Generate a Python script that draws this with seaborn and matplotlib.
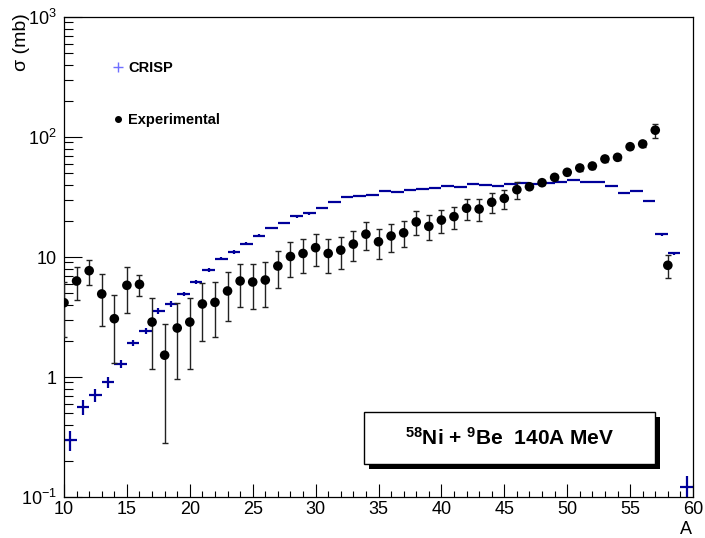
import numpy as np
import pandas as pd
import matplotlib
matplotlib.use("Agg")
import matplotlib.pyplot as plt
import seaborn as sns
from matplotlib.lines import Line2D
from matplotlib.patches import Rectangle
from matplotlib.ticker import FixedLocator, NullFormatter

# ---------------- data ----------------
exp_A = list(range(10, 59))
exp_sigma = [4.16, 6.31, 7.69, 4.92, 3.06, 5.81, 5.92, 2.87, 1.52, 2.56,
             2.87, 4.06, 4.19, 5.21, 6.31, 6.19, 6.43, 8.41, 10.1, 10.7,
             11.96, 10.7, 11.4, 12.8, 15.5, 13.4, 14.96, 15.9, 19.6, 18.0,
             20.3, 21.7, 25.5, 25.1, 28.6, 30.8, 36.4, 38.5, 41.6, 46.1,
             50.8, 55.2, 57.3, 65.6, 67.7, 83.0, 87.5, 114.0, 8.53]
exp_err = [2.0, 1.9, 1.8, 2.25, 1.76, 2.4, 1.2, 1.7, 1.24, 1.6,
           1.7, 2.05, 2.05, 2.3, 2.5, 2.5, 2.6, 2.9, 3.3, 3.3,
           3.5, 3.35, 3.4, 3.6, 4.0, 3.7, 3.9, 3.9, 4.4, 4.2,
           4.3, 4.6, 5.1, 5.2, 5.3, 5.7, 6.0, 1.9, 2.1, 2.3,
           2.5, 2.8, 2.9, 3.3, 3.4, 4.2, 4.4, 15.0, 1.9]

crisp_A = list(range(10, 60))
crisp_sigma = [0.299, 0.566, 0.704, 0.903, 1.28, 1.91, 2.42, 3.57, 4.06, 4.92,
               6.15, 7.75, 9.68, 11.0, 12.9, 15.0, 17.4, 19.2, 21.8, 23.1,
               25.6, 28.7, 31.4, 32.2, 33.1, 35.5, 34.8, 36.4, 37.1, 37.6,
               39.3, 38.5, 40.6, 40.0, 39.3, 40.8, 41.4, 40.6, 41.1, 42.4,
               43.6, 41.9, 42.2, 39.3, 34.1, 35.3, 29.1, 15.5, 10.7, 0.12]
crisp_err = [0.056, 0.08, 0.087, 0.095, 0.10, 0.11, 0.15, 0.2, 0.2, 0.22,
             0.25, 0.28, 0.3, 0.33, 0.36, 0.4, 0.42, 0.45, 0.48, 0.5,
             0.52, 0.55, 0.58, 0.58, 0.6, 0.62, 0.62, 0.63, 0.64, 0.64,
             0.65, 0.65, 0.66, 0.66, 0.65, 0.66, 0.67, 0.66, 0.67, 0.68,
             0.68, 0.67, 0.67, 0.65, 0.6, 0.61, 0.56, 0.4, 0.33, 0.03]

x_ticks = [10, 15, 20, 25, 30, 35, 40, 45, 50, 55, 60]
y_ticks = [0.1, 1, 10, 100, 1000]
y_ticklabels = ["10$^{-1}$", "1", "10", "10$^{2}$", "10$^{3}$"]

exp_df = pd.DataFrame({"A": exp_A, "sigma": exp_sigma, "err": exp_err})
crisp_df = pd.DataFrame({"A": crisp_A, "sigma": crisp_sigma, "err": crisp_err})
crisp_df["Ac"] = crisp_df["A"] + 0.5   # histogram bin centres

# ---------------- style ----------------
sns.set_style("white")
plt.rcParams["font.family"] = ["Liberation Sans", "DejaVu Sans"]
plt.rcParams["mathtext.fontset"] = "custom"
plt.rcParams["mathtext.rm"] = "Liberation Sans"
plt.rcParams["mathtext.bf"] = "Liberation Sans:bold"
plt.rcParams["mathtext.it"] = "Liberation Sans:italic"
for k in ["text.color", "axes.labelcolor", "xtick.color", "ytick.color",
          "axes.edgecolor"]:
    plt.rcParams[k] = "black"

W, H = 705, 538
fig = plt.figure(figsize=(W / 100, H / 100), dpi=100)
L, R, T, B = 64, 693, 17, 497
ax = fig.add_axes([L / W, 1 - B / H, (R - L) / W, (B - T) / H])

blue = "#00009a"

# CRISP histogram-like bars
ax.errorbar(crisp_df["Ac"], crisp_df["sigma"], xerr=0.5, yerr=crisp_df["err"],
            fmt="none", ecolor=blue, elinewidth=1.6, capsize=0, zorder=2)

# Experimental error bars + points
ax.errorbar(exp_df["A"], exp_df["sigma"], yerr=exp_df["err"], fmt="none",
            ecolor="#222222", elinewidth=1.0, capsize=2.0, capthick=1.0, zorder=3)
sns.scatterplot(data=exp_df, x="A", y="sigma", ax=ax, color="black", s=48,
                edgecolor="none", zorder=4, legend=False)

ax.set_yscale("log")
ax.set_xlim(10, 60)
ax.set_ylim(0.1, 1000)

ax.xaxis.set_major_locator(FixedLocator(x_ticks))
ax.xaxis.set_minor_locator(FixedLocator(list(range(10, 61))))
ax.set_xticklabels([str(t) for t in x_ticks])
ax.yaxis.set_major_locator(FixedLocator(y_ticks))
minors = [m * 10.0 ** e for e in range(-1, 3) for m in range(2, 10)]
ax.yaxis.set_minor_locator(FixedLocator(minors))
ax.set_yticklabels(y_ticklabels)
ax.yaxis.set_minor_formatter(NullFormatter())

ax.tick_params(axis="x", which="major", direction="in", length=9.5, width=0.8,
               labelsize=13, pad=3, bottom=True, top=False, color="black",
               labelcolor="black")
ax.tick_params(axis="x", which="minor", direction="in", length=4.5, width=0.8,
               bottom=True, top=False, color="black")
ax.tick_params(axis="y", which="major", direction="in", length=13, width=0.8,
               labelsize=13, pad=5, left=True, right=False, color="black",
               labelcolor="black")
ax.tick_params(axis="y", which="minor", direction="in", length=6.5, width=0.8,
               left=True, right=False, color="black")
for s in ax.spines.values():
    s.set_color("black")
    s.set_linewidth(0.9)
ax.set_xlabel("")
ax.set_ylabel("")

fig.text(21 / W, 1 - 13 / H, "σ (mb)", rotation=90, ha="center", va="top",
         fontsize=14, color="black")
fig.text(686 / W, 1 - 530 / H, "A", ha="center", va="center", fontsize=13,
         color="black")

# Legend
handles = [Line2D([], [], ls="none", marker="+", color="#6f6fff",
                  markersize=7, markeredgewidth=1.0),
           Line2D([], [], ls="none", marker="o", color="black", markersize=4)]
leg = ax.legend(handles, ["CRISP", "Experimental"], loc="upper left",
                bbox_to_anchor=(112 / W, 1 - 61 / H),
                bbox_transform=fig.transFigure, frameon=False,
                prop={"weight": "bold", "size": 10.5}, handlelength=0.8,
                handletextpad=0.3, labelspacing=2.6, borderpad=0,
                borderaxespad=0, labelcolor="black")

# Annotation box with shadow
bx0, bx1, by0, by1 = 364, 655, 412, 464
fig.add_artist(Rectangle(((bx0 + 5) / W, 1 - (by1 + 5) / H), (bx1 - bx0) / W,
                         (by1 - by0) / H, transform=fig.transFigure,
                         facecolor="black", edgecolor="black", lw=0, zorder=5))
fig.add_artist(Rectangle((bx0 / W, 1 - by1 / H), (bx1 - bx0) / W,
                         (by1 - by0) / H, transform=fig.transFigure,
                         facecolor="white", edgecolor="black", lw=1.0, zorder=6))
fig.text((bx0 + bx1) / 2 / W, 1 - (by0 + by1) / 2 / H,
         r"$^{\mathbf{58}}$Ni + $^{\mathbf{9}}$Be  140A MeV",
         ha="center", va="center", fontsize=15, fontweight="bold", zorder=7,
         color="black")

fig.savefig("out.png", dpi=100)
